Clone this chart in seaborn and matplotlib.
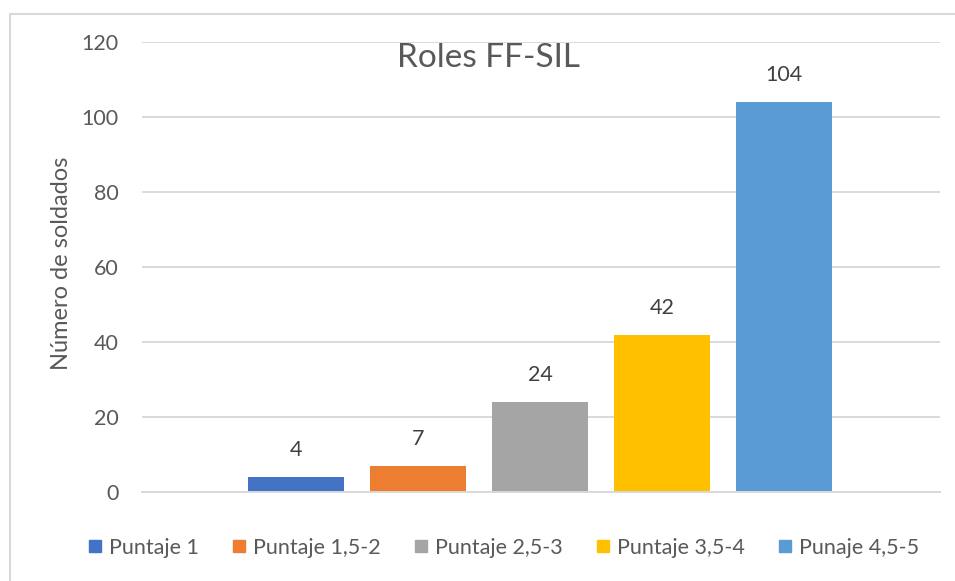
import matplotlib
matplotlib.use("Agg")
import matplotlib.pyplot as plt
import seaborn as sns
import pandas as pd
from matplotlib.patches import Rectangle
from matplotlib.lines import Line2D

categories = ["Puntaje 1", "Puntaje 1,5-2", "Puntaje 2,5-3", "Puntaje 3,5-4", "Punaje 4,5-5"]
values = [4, 7, 24, 42, 104]
colors = ["#4472C4", "#ED7D31", "#A5A5A5", "#FFC000", "#5B9BD5"]
yticks = [0, 20, 40, 60, 80, 100, 120]

sns.set_theme(style="white")
plt.rcParams['font.family'] = ['Lato', 'DejaVu Sans']

df = pd.DataFrame({"cat": categories, "val": values})

W, H = 955, 581
fig = plt.figure(figsize=(W / 100, H / 100), dpi=100)
ax = fig.add_axes([142 / W, (H - 492) / H, (940 - 142) / W, (492 - 42) / H])

sns.barplot(data=df, x="cat", y="val", hue="cat", palette=colors, order=categories,
            hue_order=categories, dodge=False, legend=False, width=0.787, ax=ax,
            saturation=1, linewidth=0)

ax.set_ylim(0, 120)
ax.set_xlim(-1.265, 5.28)
ax.set_yticks(yticks)
ax.set_yticklabels([str(t) for t in yticks], fontsize=15.5, color="#595959")
ax.set_xticks([])
ax.set_xlabel("")
ax.set_ylabel("")
ax.tick_params(axis="y", length=0, pad=17)
ax.grid(axis="y", color="#d9d9d9", linewidth=1.4)
ax.set_axisbelow(True)
for s in ["top", "right", "left"]:
    ax.spines[s].set_visible(False)
ax.spines["bottom"].set_color("#d9d9d9")
ax.spines["bottom"].set_linewidth(1.4)

for c in ax.containers:
    ax.bar_label(c, padding=12, fontsize=15.5, color="#404040")

fig.text(62 / W, 1 - 263 / H, "Número de soldados", rotation=90, ha="center", va="center",
         fontsize=17, color="#595959")

fig.text(488 / W, 1 - 58 / H, "Roles FF-SIL", ha="center", va="center",
         fontsize=24, color="#595959")

handles = [Line2D([0], [0], marker="s", linestyle="none", markersize=8.5,
                  markerfacecolor=col, markeredgecolor=col) for col in colors]
fig.legend(handles, categories, loc="center", bbox_to_anchor=(503 / W, 1 - 548 / H),
           ncol=5, frameon=False, fontsize=15.5, labelcolor="#595959",
           handletextpad=0.25, columnspacing=1.47, handlelength=0.8)

fig.patches.append(Rectangle((10 / W, -0.1), 1.2, 1 - 14 / H + 0.1, transform=fig.transFigure,
                             fill=False, edgecolor="#d9d9d9", linewidth=1.5))

fig.savefig("out.png", dpi=100)
